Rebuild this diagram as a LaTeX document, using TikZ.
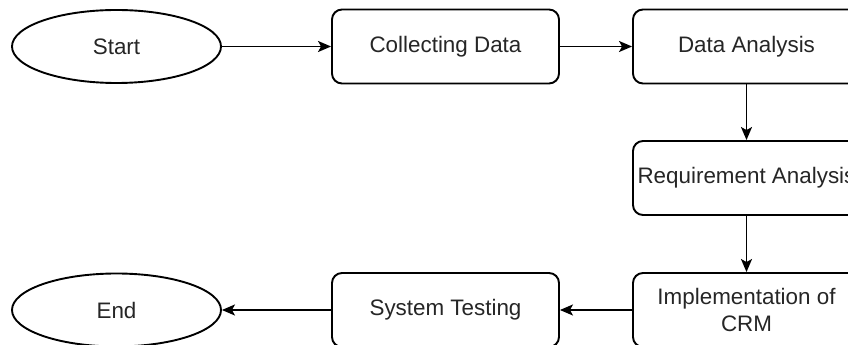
\documentclass[tikz,border=0pt]{standalone}
\usepackage{fontspec}
\setmainfont{Liberation Sans}
\usetikzlibrary{shapes.geometric,arrows.meta}
\begin{document}
\begin{tikzpicture}[x=1pt,y=1pt,
  lbl/.style={font=\fontsize{22.4}{27}\selectfont, text=black!85, align=center, inner sep=0pt},
  box/.style={lbl, draw=black, rounded corners=10pt, minimum width=227pt, minimum height=74pt, line width=1.9pt},
  oval/.style={lbl, draw=black, ellipse, minimum width=209pt, minimum height=73pt, line width=1.9pt},
  arr/.style={-{Stealth[length=13pt,width=11pt,inset=3pt]}, line width=1.9pt}]
\useasboundingbox (0,0) rectangle (848,345);
\fill[white] (0,0) rectangle (848,345);
\clip (0,0) rectangle (848,345);
\node[oval] (start) at (116.5,298.5) {Start};
\node[box] (collect) at (445.5,298.5) {Collecting Data};
\node[box] (analysis) at (746.5,298.5) {Data Analysis};
\node[box] (req) at (746.5,167) {Requirement Analysis};
\node[box] (impl) at (746.5,35) {Implementation of\\CRM};
\node[box] (test) at (445.5,35) {System Testing};
\node[oval] (end) at (116.5,35) {End};
\draw[arr] (start) -- (collect);
\draw[arr] (collect) -- (analysis);
\draw[arr] (analysis) -- (req);
\draw[arr] (req) -- (impl);
\draw[arr] (impl) -- (test);
\draw[arr] (test) -- (end);
\end{tikzpicture}
\end{document}
